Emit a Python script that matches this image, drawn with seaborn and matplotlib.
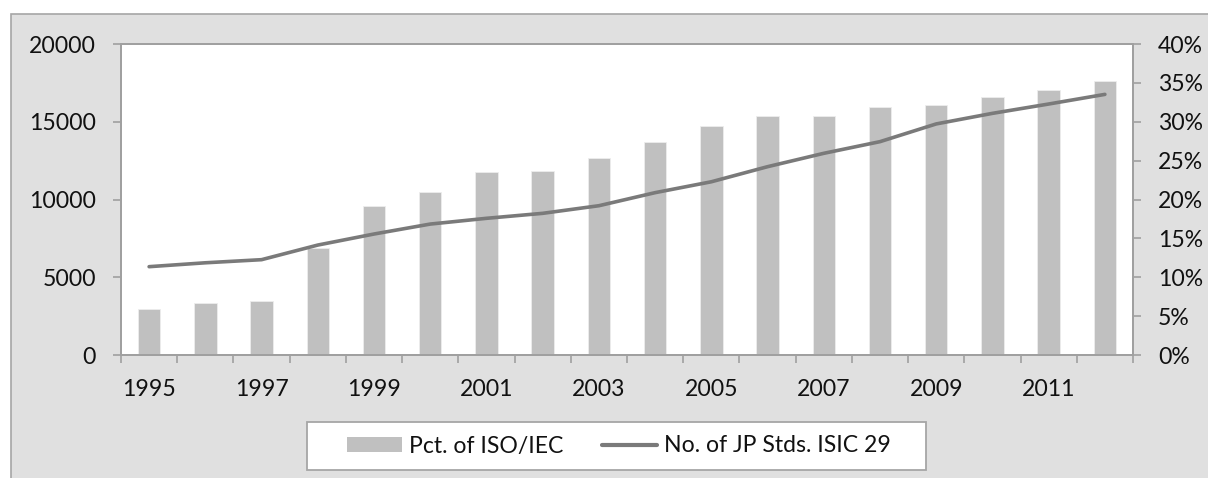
import numpy as np
import pandas as pd
import matplotlib
matplotlib.use("Agg")
import matplotlib.pyplot as plt
from matplotlib.patches import Rectangle, Patch
from matplotlib.lines import Line2D
from matplotlib.ticker import PercentFormatter, MultipleLocator, FixedLocator
import seaborn as sns

# Japanese industrial standards, ISIC 29, 1995-2012
years = list(range(1995, 2013))
pct_iso_iec = [0.0595, 0.067, 0.070, 0.137, 0.192, 0.210, 0.236, 0.237, 0.254,
               0.274, 0.295, 0.308, 0.307, 0.319, 0.321, 0.332, 0.341, 0.352]
jp_stds = [5680, 5930, 6130, 7070, 7780, 8420, 8790, 9110, 9600,
           10440, 11140, 12110, 12970, 13720, 14860, 15540, 16140, 16760]
year_labels = [str(y) for y in years[::2]]

bar_label = "Pct. of ISO/IEC"
line_label = "No. of JP Stds. ISIC 29"

df = pd.DataFrame({"year": years, "pct": pct_iso_iec, "stds": jp_stds})

sns.set_theme(style="white")
plt.rcParams["font.family"] = ["Lato", "DejaVu Sans"]

W, H = 1208, 478
fig = plt.figure(figsize=(W / 100, H / 100), dpi=100)
fig.patch.set_facecolor("white")

# grey chart area with its border
fig.patches.append(Rectangle((11 / W, -0.05), 1.1, (H - 14) / H + 0.05,
                             transform=fig.transFigure, facecolor="#E0E0E0",
                             edgecolor="#A6A6A6", linewidth=1.2, zorder=-10))

left, right, top, bottom = 121, 1133, 44, 355
ax = fig.add_axes([left / W, (H - bottom) / H, (right - left) / W, (bottom - top) / H])
axb = ax.twinx()

grey_edge = "#A0A0A0"
txt = "#111111"
fs = 16.6

# bars: share of ISO/IEC-based standards (right axis, drawn underneath)
sns.barplot(data=df, x="year", y="pct", ax=axb, native_scale=True, width=0.4,
            color="#C0C0C0", saturation=1, edgecolor="#EDEDED", linewidth=0.6)
axb.set_ylim(0, 0.40)
axb.yaxis.set_major_locator(MultipleLocator(0.05))
axb.yaxis.set_major_formatter(PercentFormatter(1, decimals=0))

# line: number of standards (left axis, drawn on top)
sns.lineplot(data=df, x="year", y="stds", ax=ax, color="#7A7A7A", linewidth=2.6)
ax.set_ylim(0, 20000)
ax.yaxis.set_major_locator(MultipleLocator(5000))

ax.set_zorder(axb.get_zorder() + 1)
ax.patch.set_visible(False)
axb.patch.set_visible(True)
axb.patch.set_facecolor("white")

ax.set_xlim(years[0] - 0.5, years[-1] + 0.5)
ax.xaxis.set_major_locator(FixedLocator(years[::2]))
ax.set_xticklabels(year_labels)
ax.xaxis.set_minor_locator(FixedLocator(np.arange(years[0] - 0.5, years[-1] + 1, 1.0)))

for a in (ax, axb):
    a.set_xlabel("")
    a.set_ylabel("")
    a.grid(False)
    for s in a.spines.values():
        s.set_color(grey_edge)
        s.set_linewidth(1.3)

tick_kw = dict(length=6, width=1.2, color=grey_edge, direction="out",
               labelsize=fs, labelcolor=txt)
ax.tick_params(axis="x", which="major", length=0, pad=17, labelsize=fs, labelcolor=txt)
ax.tick_params(axis="x", which="minor", length=6, width=1.2, color=grey_edge,
               direction="out", bottom=True)
axb.tick_params(axis="x", which="both", bottom=False, labelbottom=False)
ax.tick_params(axis="y", which="major", pad=12, left=True, **tick_kw)
axb.tick_params(axis="y", which="major", pad=12, right=True, **tick_kw)
if ax.get_legend():
    ax.get_legend().remove()

# legend box
lx0, lx1, ly0, ly1 = 307, 926, 422, 470
fig.patches.append(Rectangle((lx0 / W, (H - ly1) / H), (lx1 - lx0) / W, (ly1 - ly0) / H,
                             transform=fig.transFigure, facecolor="white",
                             edgecolor="#A6A6A6", linewidth=1.3, zorder=1))
handles = [Patch(facecolor="#C0C0C0", edgecolor="none"),
           Line2D([0], [0], color="#7A7A7A", linewidth=3)]
fig.legend(handles, [bar_label, line_label], loc="center",
           bbox_to_anchor=(619 / W, (H - 446) / H), ncol=2, frameon=False,
           fontsize=fs, handlelength=2.4, handleheight=0.6, handletextpad=0.3,
           columnspacing=1.65, labelcolor=txt)

fig.savefig("out.png", dpi=100)
